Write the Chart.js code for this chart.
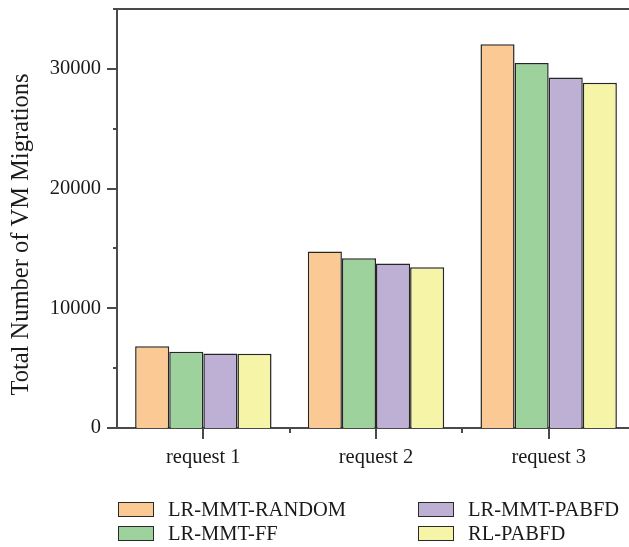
<!DOCTYPE html>
<html>
<head>
<meta charset="utf-8">
<script src="https://cdn.jsdelivr.net/npm/chart.js@4/dist/chart.umd.min.js"></script>
<style>
  html, body { margin: 0; padding: 0; background: #ffffff; overflow: hidden; }
  #wrap { position: relative; width: 629px; height: 547px; overflow: hidden; }
  #chart { position: absolute; left: 0; top: 0; }
  #legend { position: absolute; left: 0; top: 0; width: 629px; height: 547px; pointer-events: none;
            font-family: "Liberation Serif", "Times New Roman", serif; font-size: 20.5px; color: #1a1a1a; }
  .item { position: absolute; display: flex; align-items: center; white-space: nowrap; }
  .swatch { width: 34px; height: 13px; border: 1.5px solid #2a2a2a; margin-right: 14px; box-sizing: content-box; }
</style>
</head>
<body>
<div id="wrap">
  <canvas id="chart" width="635" height="470"></canvas>
  <div id="legend"></div>
</div>
<script>
// Requests on the x axis
const categories = ['request 1', 'request 2', 'request 3'];

// Total VM migrations per policy
const seriesNames = ['LR-MMT-RANDOM', 'LR-MMT-FF', 'LR-MMT-PABFD', 'RL-PABFD'];
const lrMmtRandom = [6830, 14750, 32060];
const lrMmtFf     = [6360, 14170, 30480];
const lrMmtPabfd  = [6220, 13750, 29280];
const rlPabfd     = [6210, 13420, 28830];
const seriesColors = ['#FBC993', '#9DD29C', '#BEAFD4', '#F6F4A7'];

// Axis ticks
const yMax = 35000;
const yMajorTicks = [0, 10000, 20000, 30000];
const yMinorTicks = [5000, 15000, 25000, 35000];
const yTitle = 'Total Number of VM Migrations';

const axisColor = '#4a4a4a';
const textColor = '#1a1a1a';
const serif = '"Liberation Serif", "Times New Roman", serif';

const seriesValues = [lrMmtRandom, lrMmtFf, lrMmtPabfd, rlPabfd];

// Tick marks, the top frame line and the y title, placed through the chart's own scales
const frameTicks = {
  id: 'frameTicks',
  afterDraw(chart) {
    const ctx = chart.ctx;
    const xs = chart.scales.x, ys = chart.scales.y;
    const area = chart.chartArea;
    ctx.save();
    ctx.strokeStyle = axisColor;
    ctx.lineWidth = 2;
    ctx.beginPath();
    // top frame
    ctx.moveTo(area.left, area.top);
    ctx.lineTo(area.right, area.top);
    // y ticks
    yMajorTicks.forEach(v => {
      const y = Math.round(ys.getPixelForValue(v));
      ctx.moveTo(area.left - 10, y);
      ctx.lineTo(area.left, y);
    });
    yMinorTicks.forEach(v => {
      const y = Math.round(ys.getPixelForValue(v));
      ctx.moveTo(area.left - 4, y);
      ctx.lineTo(area.left, y);
    });
    // x ticks: major at each request, minor between them
    categories.forEach((c, i) => {
      const x = Math.round(xs.getPixelForValue(i));
      ctx.moveTo(x, area.bottom);
      ctx.lineTo(x, area.bottom + 11);
      if (i < categories.length - 1) {
        const xm = Math.round(xs.getPixelForValue(i + 0.5));
        ctx.moveTo(xm, area.bottom);
        ctx.lineTo(xm, area.bottom + 5);
      }
    });
    ctx.stroke();

    // rotated y-axis title, sitting a little below the middle of the axis
    ctx.fillStyle = textColor;
    ctx.font = '24.5px ' + serif;
    ctx.textAlign = 'center';
    ctx.textBaseline = 'middle';
    ctx.translate(22, (area.top + area.bottom) / 2 + 16);
    ctx.rotate(-Math.PI / 2);
    ctx.fillText(yTitle, 0, 0);
    ctx.restore();
  }
};

const chart = new Chart(document.getElementById('chart'), {
  type: 'bar',
  data: {
    labels: categories,
    datasets: seriesNames.map((name, i) => ({
      label: name,
      data: seriesValues[i],
      backgroundColor: seriesColors[i],
      borderColor: '#262626',
      borderWidth: 1.5,
      borderSkipped: 'bottom',
      categoryPercentage: 0.79,
      barPercentage: 1.0
    }))
  },
  options: {
    responsive: false,
    animation: false,
    layout: { padding: { top: 9, right: 0, bottom: 0, left: 0 } },
    plugins: {
      legend: { display: false },
      tooltip: { enabled: false }
    },
    scales: {
      x: {
        grid: { display: false },
        border: { display: true, color: axisColor, width: 2 },
        ticks: { color: textColor, font: { family: serif, size: 20.5 }, padding: 9, maxRotation: 0 },
        afterFit(scale) {
          scale.height = 42;
          scale.paddingLeft = 0;
          scale.paddingRight = 0;
        }
      },
      y: {
        min: 0,
        max: yMax,
        grid: { display: false },
        border: { display: true, color: axisColor, width: 2 },
        ticks: {
          autoSkip: false,
          color: textColor,
          font: { family: serif, size: 20.5 },
          padding: 8,
          callback: v => String(v)
        },
        afterBuildTicks(scale) { scale.ticks = yMajorTicks.map(v => ({ value: v })); },
        afterFit(scale) {
          scale.width = 117;
          scale.paddingTop = 0;
          scale.paddingBottom = 0;
        }
      }
    }
  },
  plugins: [frameTicks]
});

// Two-column legend built from the series arrays
const legend = document.getElementById('legend');
const legendSpots = [[118, 509], [118, 533], [418, 509], [418, 533]];
seriesNames.forEach((name, i) => {
  const item = document.createElement('div');
  item.className = 'item';
  item.style.left = legendSpots[i][0] + 'px';
  item.style.top = (legendSpots[i][1] - 12) + 'px';
  item.style.height = '24px';
  const sw = document.createElement('span');
  sw.className = 'swatch';
  sw.style.background = seriesColors[i];
  const tx = document.createElement('span');
  tx.textContent = name;
  item.appendChild(sw);
  item.appendChild(tx);
  legend.appendChild(item);
});
</script>
</body>
</html>
